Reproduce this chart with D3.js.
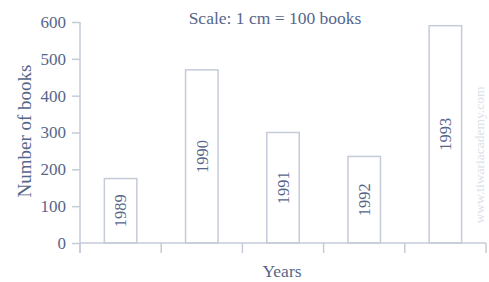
<!DOCTYPE html>
<html>
<head>
<meta charset="utf-8">
<script src="https://cdn.jsdelivr.net/npm/d3@7"></script>
<style>
  body { margin: 0; background: #fff; }
  text { font-family: "Liberation Serif", "DejaVu Serif", serif; }
</style>
</head>
<body>
<div id="chart"></div>
<script>
'use strict';

// values
const years = ['1989', '1990', '1991', '1992', '1993'];
const books = [175, 470, 300, 235, 590];
const yTicks = [0, 100, 200, 300, 400, 500, 600];

const W = 489, H = 282;
const margin = {top: 22, right: 3, bottom: 39, left: 80};
const width = W - margin.left - margin.right,
  height = H - margin.top - margin.bottom;

const textCol = '#56668a';
const lineCol = '#c5cbd8';

const svg = d3.select('#chart').append('svg')
  .attr('width', W)
  .attr('height', H);

const g = svg.append('g').attr('transform', 'translate(' + margin.left + ',' + margin.top + ')');

const xScale = d3.scaleBand()
  .domain(years)
  .range([0, width])
  .paddingInner(0.6)
  .paddingOuter(0.3);

const yScale = d3.scaleLinear()
  .domain([0, 600])
  .range([height, 0]);

// bars
g.selectAll('rect.bar')
  .data(years)
  .enter().append('rect')
  .attr('class', 'bar')
  .attr('x', d => xScale(d))
  .attr('width', xScale.bandwidth())
  .attr('y', (d, i) => yScale(books[i]))
  .attr('height', (d, i) => height - yScale(books[i]))
  .attr('fill', '#fff')
  .attr('stroke', lineCol)
  .attr('stroke-width', 1.5);

// year labels inside bars
g.selectAll('text.yr')
  .data(years)
  .enter().append('text')
  .attr('class', 'yr')
  .attr('transform', (d, i) => 'translate(' + (xScale(d) + xScale.bandwidth() / 2) + ',' +
    ((yScale(books[i]) + height) / 2) + ') rotate(-90)')
  .attr('text-anchor', 'middle')
  .attr('dy', '0.35em')
  .attr('font-size', 16.5)
  .attr('fill', textCol)
  .text(d => d);

// y axis
const yAxis = g.append('g')
  .call(d3.axisLeft(yScale).tickValues(yTicks).tickSize(8).tickPadding(6));
yAxis.selectAll('text').attr('font-size', 17).attr('fill', textCol)
  .style('font-family', '"Liberation Serif", serif');
yAxis.selectAll('line').attr('stroke', lineCol).attr('stroke-width', 1.5);
yAxis.select('.domain').attr('stroke', lineCol).attr('stroke-width', 1.5)
  .attr('d', 'M0,0V' + (height + 10));

// x axis: ticks at the band boundaries
const bounds = d3.range(years.length + 1).map(i => i * width / years.length);
const xAxis = g.append('g').attr('transform', 'translate(0,' + height + ')');
xAxis.append('line')
  .attr('x1', 0).attr('x2', width)
  .attr('stroke', lineCol).attr('stroke-width', 1.5);
xAxis.selectAll('line.tk')
  .data(bounds)
  .enter().append('line')
  .attr('class', 'tk')
  .attr('x1', d => d).attr('x2', d => d)
  .attr('y1', 0).attr('y2', 10)
  .attr('stroke', lineCol).attr('stroke-width', 1.5);

// titles
svg.append('text')
  .attr('x', 275).attr('y', 24)
  .attr('text-anchor', 'middle')
  .attr('font-size', 17.5)
  .attr('fill', textCol)
  .text('Scale: 1 cm = 100 books');

svg.append('text')
  .attr('x', 282).attr('y', 277)
  .attr('text-anchor', 'middle')
  .attr('font-size', 17.5)
  .attr('fill', textCol)
  .text('Years');

svg.append('text')
  .attr('transform', 'translate(31,131) rotate(-90)')
  .attr('text-anchor', 'middle')
  .attr('font-size', 19)
  .attr('fill', textCol)
  .text('Number of books');

// watermark
svg.append('text')
  .attr('transform', 'translate(479,155) rotate(-90)')
  .attr('text-anchor', 'middle')
  .attr('dy', '0.35em')
  .attr('font-size', 13.5)
  .attr('fill', '#dbe0e9')
  .text('www.tiwariacademy.com');
</script>
</body>
</html>
